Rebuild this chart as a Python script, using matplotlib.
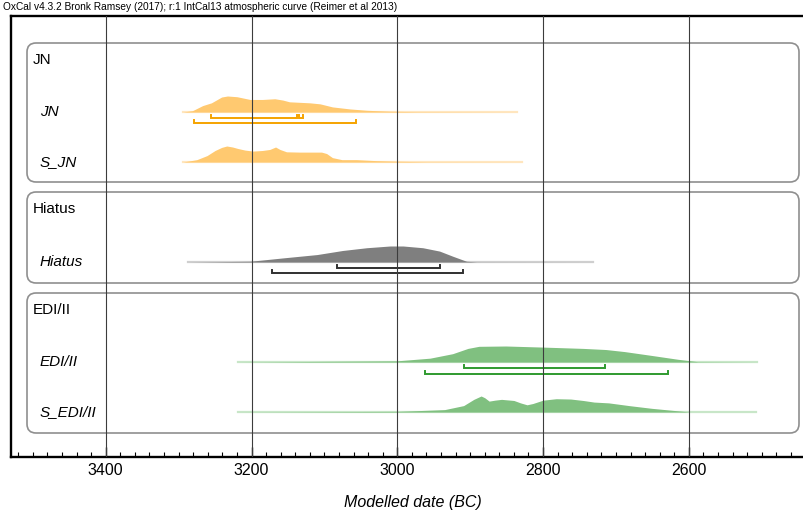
import numpy as np
import matplotlib.pyplot as plt
from matplotlib.patches import FancyBboxPatch
from matplotlib.ticker import MultipleLocator

plt.rcParams['font.family'] = ['Liberation Sans', 'DejaVu Sans']

header = "OxCal v4.3.2 Bronk Ramsey (2017); r:1 IntCal13 atmospheric curve (Reimer et al 2013)"
xlabel = "Modelled date (BC)"
major_ticks = [3400, 3200, 3000, 2800, 2600]

# group boxes: label, top row, bottom row (pixels)
groups = ["JN", "Hiatus", "EDI/II"]
group_rows = [(43, 182), (192, 283), (293, 433)]

# rows: label, baseline row
row_labels = ["JN", "S_JN", "Hiatus", "EDI/II", "S_EDI/II"]

# distributions (years BC, relative height)
jn_years = [3294, 3281, 3267, 3255, 3241, 3233, 3220, 3202, 3185, 3168, 3157, 3148,
            3120, 3106, 3089, 3065, 3042, 3010, 2973, 2836]
jn_dens = [0, 1.3, 6.3, 9, 14.7, 15.7, 15, 12.3, 12.3, 13, 11.7, 10,
           9, 8, 5, 3, 1.7, 0.7, 0.3, 0]

sjn_years = [3294, 3275, 3261, 3250, 3241, 3234, 3226, 3219, 3209, 3198, 3185, 3175,
             3167, 3161, 3152, 3134, 3104, 3097, 3089, 3076, 3056, 3028, 3001, 2960, 2829]
sjn_dens = [0, 2.3, 6.3, 11.3, 14.3, 15.7, 14.7, 13.3, 11.7, 10.7, 11.3, 12.3,
            14.7, 12.3, 10, 9.7, 9.7, 8.3, 4.3, 2.3, 2.3, 1.3, 0.7, 0.2, 0]

hiatus_years = [3287, 3202, 3157, 3110, 3075, 3042, 3010, 2992, 2965, 2942, 2924,
                2905, 2891, 2732]
hiatus_dens = [0, 0.7, 4, 7.3, 11.3, 14, 15.7, 15.7, 14, 10.7, 5.7, 0.7, 0.1, 0]

edi_years = [3219, 3001, 2955, 2924, 2903, 2888, 2851, 2799, 2745, 2714, 2688,
             2651, 2615, 2588, 2507]
edi_dens = [0, 0.07, 0.24, 0.52, 0.85, 0.98, 1.0, 0.93, 0.85, 0.78, 0.65,
            0.41, 0.17, 0.02, 0]

sedi_years = [3219, 2998, 2935, 2909, 2895, 2885, 2880, 2874, 2866, 2857, 2840, 2831,
              2822, 2814, 2800, 2782, 2762, 2745, 2730, 2710, 2682, 2651, 2619, 2599, 2508]
sedi_dens = [0, 0.04, 0.15, 0.4, 0.79, 1.0, 0.89, 0.68, 0.74, 0.79, 0.72, 0.57,
             0.45, 0.53, 0.74, 0.83, 0.81, 0.72, 0.62, 0.57, 0.40, 0.23, 0.09, 0, 0]

# highest posterior density ranges (68.2% and 95.4%)
jn_r68 = [(3256, 3138), (3135, 3130)]
jn_r95 = [(3279, 3056)]
hiatus_r68 = [(3083, 2942)]
hiatus_r95 = [(3172, 2910)]
edi_r68 = [(2909, 2715)]
edi_r95 = [(2962, 2629)]

orange = dict(fill='#ffc970', tail='#ffe6bf', line='#f5a300')
grey = dict(fill='#7f7f7f', tail='#cfcfcf', line='#303030')
green = dict(fill='#80c080', tail='#c8e6c8', line='#2f9a2f')

rows = [
    (jn_years, jn_dens, 112, orange, [(jn_r68, 118), (jn_r95, 123)]),
    (sjn_years, sjn_dens, 162, orange, []),
    (hiatus_years, hiatus_dens, 262, grey, [(hiatus_r68, 268), (hiatus_r95, 273)]),
    (edi_years, edi_dens, 362, green, [(edi_r68, 368), (edi_r95, 374)]),
    (sedi_years, sedi_dens, 412, green, []),
]

W, H = 804, 516
fig = plt.figure(figsize=(W / 100, H / 100), dpi=100)
ax = fig.add_axes([11 / W, 1 - 457 / H, 793 / W, 441 / H])
ax.set_xlim(3530, 2442)
ax.set_ylim(457, 16)

for s in ['left', 'top', 'bottom']:
    ax.spines[s].set_linewidth(1.7)
ax.spines['right'].set_visible(False)
ax.set_yticks([])
ax.set_xticks(major_ticks)
ax.xaxis.set_minor_locator(MultipleLocator(20))
ax.tick_params(axis='x', which='major', direction='in', length=7, width=1,
               labelsize=11.5, pad=4)
ax.tick_params(axis='x', which='minor', direction='in', length=3.5, width=0.8)

for t in major_ticks:
    ax.axvline(t, color='#3c3c3c', lw=0.8, zorder=6)

for (top, bottom) in group_rows:
    box = FancyBboxPatch(((27 - 11) / 793, (457 - bottom) / 441),
                         (799 - 27) / 793, (bottom - top) / 441,
                         boxstyle="round,pad=0,rounding_size=%f" % (9 / 793),
                         mutation_aspect=793 / 441, transform=ax.transAxes,
                         fc='none', ec='#8f8f8f', lw=1.2, zorder=3)
    ax.add_patch(box)

lab_tr = ax.get_yaxis_transform()
for name, (top, bottom) in zip(groups, group_rows):
    ax.text((33 - 11) / 793, top + 17, name, transform=lab_tr, fontsize=11,
            ha='left', va='center')

for (yrs, dens, base, col, ranges), name in zip(rows, row_labels):
    yrs = np.array(yrs, dtype=float)
    d = np.array(dens, dtype=float)
    d = d / d.max() * 16
    ax.plot([yrs[0], yrs[-1]], [base, base], color=col['tail'], lw=1.6, zorder=2)
    ax.fill_between(yrs, base, base - d, color=col['fill'], lw=0, zorder=4)
    for rng, ry in ranges:
        for a, b in rng:
            ax.plot([a, a, b, b], [ry - 3, ry, ry, ry - 3], color=col['line'],
                    lw=1.4, zorder=5, solid_joinstyle='miter')
    ax.text((40 - 11) / 793, base, name, transform=lab_tr, fontsize=11,
            style='italic', ha='left', va='center')

fig.text(3 / W, 1 - 7 / H, header, fontsize=7.3, ha='left', va='center')
fig.text(413 / W, 1 - 503 / H, xlabel, fontsize=11.5, style='italic',
         ha='center', va='center')

fig.savefig('out.png', dpi=100)
